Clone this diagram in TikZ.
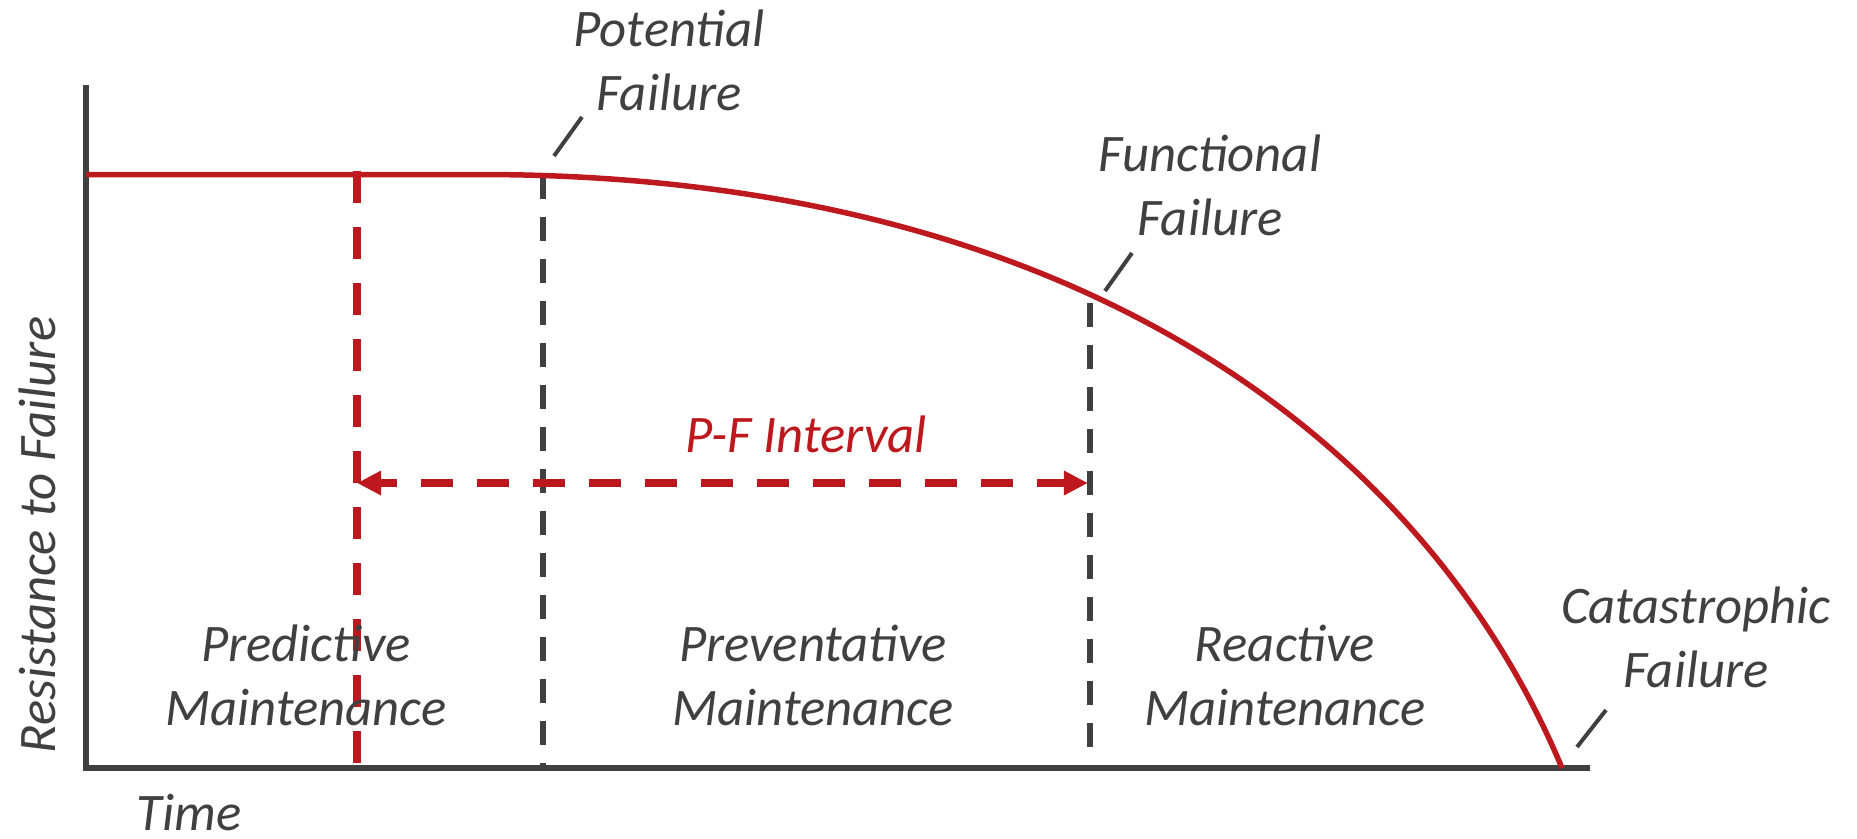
\documentclass[tikz,border=0pt]{standalone}
\usepackage{fontspec}
\setmainfont{Carlito}
\usetikzlibrary{arrows.meta}
\definecolor{axisgray}{RGB}{64,64,64}
\definecolor{pfred}{RGB}{188,24,30}
\begin{document}
\begin{tikzpicture}[x=0.01cm,y=-0.01cm,
  lbl/.style={font=\fontsize{15pt}{18.1pt}\selectfont\itshape, text=axisgray, align=center, inner sep=0pt},
  axisline/.style={draw=axisgray, line width=0.06cm, line join=miter},
  graydash/.style={draw=axisgray, line width=0.055cm, dash pattern=on 0.235cm off 0.185cm},
  reddash/.style={draw=pfred, line width=0.08cm, dash pattern=on 0.32cm off 0.24cm},
  leader/.style={draw=axisgray, line width=0.04cm},
  curveline/.style={draw=pfred, line width=0.055cm},
  pfarrow/.style={reddash, dash phase=0.15cm,
     {Triangle[length=0.24cm,width=0.23cm]}-{Triangle[length=0.24cm,width=0.23cm]}}]
\useasboundingbox (0,0) rectangle (1857,838);

% named points
\coordinate (O) at (86,768);
\coordinate (Ytop) at (86,85);
\coordinate (Xend) at (1590,768);
\coordinate (Cstart) at (86,174.5);
\coordinate (Cflat) at (480,174.5);
\coordinate (Cend) at (1562,768);
\coordinate (Rtop) at (357,171);
\coordinate (Rbot) at (357,763);
\coordinate (Ptop) at (543,175);
\coordinate (Pbot) at (543,768);
\coordinate (Ftop) at (1090,303);
\coordinate (Fbot) at (1090,747);
\coordinate (Aleft) at (357,483);
\coordinate (Aright) at (1088,483);
\coordinate (potA) at (582,117);
\coordinate (potB) at (554,156);
\coordinate (funA) at (1132,253);
\coordinate (funB) at (1105,291);
\coordinate (catA) at (1606,710);
\coordinate (catB) at (1577,747);

% dashed verticals
\draw[reddash] (Rtop) -- (Rbot);
\draw[graydash] (Ptop) -- (Pbot);
\draw[graydash] (Ftop) -- (Fbot);

% P-F interval arrow
\draw[pfarrow] (Aleft) -- (Aright);

% axes
\draw[gray!45, line width=0.012cm] (89,765.2) -- (1590,765.2);
\draw[axisline] (Ytop) -- (O) -- (Xend);

% resistance curve
\draw[curveline] (Cstart) -- (Cflat) .. controls (1080,174.5) and (1427,445) .. (Cend);

% leader lines
\draw[leader] (potA) -- (potB);
\draw[leader] (funA) -- (funB);
\draw[leader] (catA) -- (catB);

% labels (base anchor = baseline of the last line)
\node[lbl, anchor=base] (potential) at (669,110) {Potential\\Failure};
\node[lbl, anchor=base] (functional) at (1210,235) {Functional\\Failure};
\node[lbl, anchor=base] (catastrophic) at (1696,687) {Catastrophic\\Failure};
\node[lbl, anchor=base] (predictive) at (306,725) {Predictive\\Maintenance};
\node[lbl, anchor=base] (preventative) at (813,725) {Preventative\\Maintenance};
\node[lbl, anchor=base] (reactive) at (1285,725) {Reactive\\Maintenance};
\node[lbl, anchor=base, text=pfred] (pfint) at (806,452) {P-F Interval};
\node[lbl, anchor=base] (time) at (189,830) {Time};
\node[lbl, anchor=base, rotate=90] (ylabel) at (55,535) {Resistance to Failure};
\end{tikzpicture}
\end{document}
